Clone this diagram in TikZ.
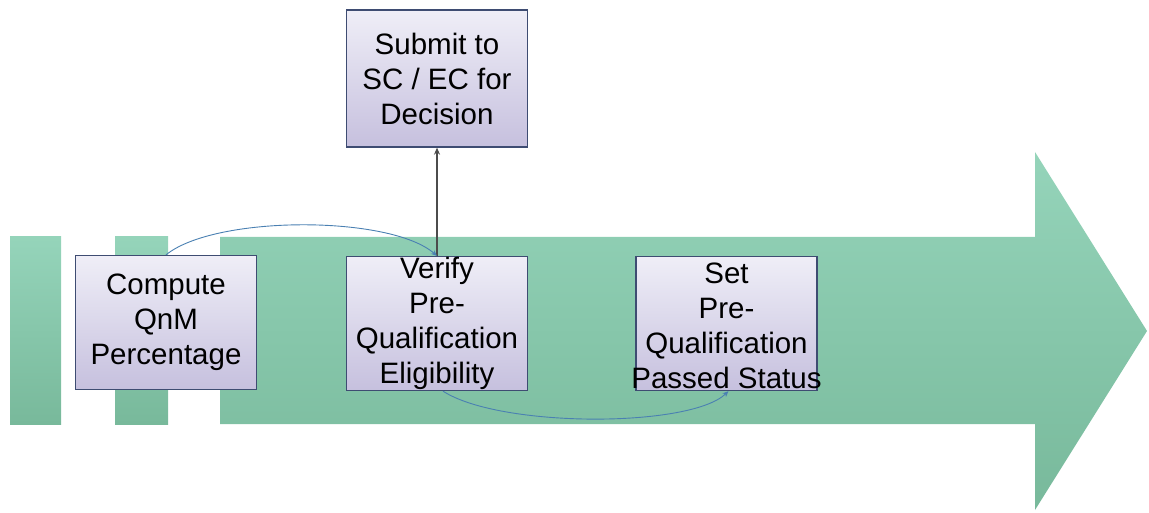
\documentclass[tikz,border=0pt]{standalone}
\usepackage{fontspec}
\setmainfont{Liberation Sans}
\usetikzlibrary{arrows.meta}
\definecolor{gtop}{HTML}{95D4BA}
\definecolor{gbot}{HTML}{78B99B}
\definecolor{btop}{HTML}{EFEEF7}
\definecolor{bbot}{HTML}{C6C0DE}
\definecolor{bdr}{HTML}{3E4C72}
\definecolor{curv}{HTML}{4A80B2}
\tikzset{
  band/.style={top color=gtop, bottom color=gbot, draw=none},
  procbox/.style={draw=bdr, line width=1.3pt, top color=btop, bottom color=bbot,
    inner sep=0pt, minimum width=181pt, minimum height=134pt, align=center,
    font=\fontsize{29.5}{35}\selectfont},
  flow/.style={draw=curv, line width=0.9pt, -{Stealth[length=6pt,width=5pt]}},
  up/.style={draw=black!70, line width=1.4pt, -{Stealth[length=7pt,width=6pt]}}
}
\begin{document}
\begin{tikzpicture}[x=1pt,y=-1pt]
\useasboundingbox (0,0) rectangle (1149,513);
% background arrow and bars
\path[band] (10,237) rectangle (61,424);
\path[band] (115,237) rectangle (168,424);
\path[band] (220,237) -- (1035,237) -- (1035,152) -- (1147,331) -- (1035,510) -- (1035,424) -- (220,424) -- cycle;
% boxes
\node[procbox] (comp) at (166,322.5) {Compute\\QnM\\Percentage};
\node[procbox] (ver) at (437,323.5) {Verify\\Pre-\\Qualification\\Eligibility};
\node[procbox] (set) at (726.5,323.5) {};
\node[font=\fontsize{29.5}{35}\selectfont, align=center, inner sep=0pt] (settext) at (726.5,326) {Set\\Pre-\\Qualification\\Passed Status};
\node[procbox, minimum height=137pt] (sub) at (437,78.5) {Submit to\\SC / EC for\\Decision};
% connectors
\draw[up] (ver.north) -- (sub.south);
\draw[flow] (comp.north) .. controls (215,215) and (390,215) .. (ver.north);
\draw[flow] ([xshift=6pt]ver.south) .. controls (500,428) and (690,428) .. ([xshift=2pt]set.south);
\end{tikzpicture}
\end{document}
